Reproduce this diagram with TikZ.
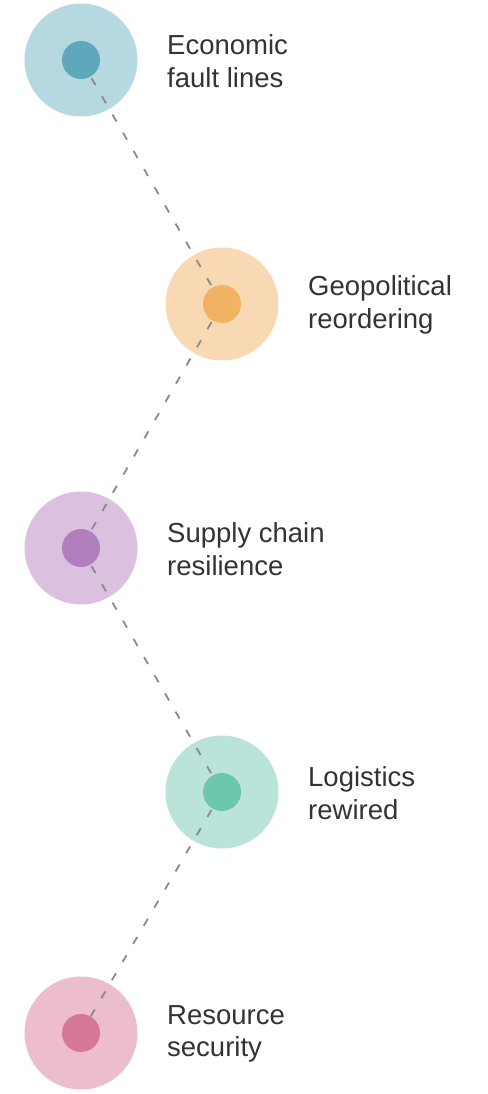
\documentclass[tikz,border=0pt]{standalone}
\usepackage{fontspec}
\setmainfont{Liberation Sans}
\definecolor{o1}{HTML}{B6D9E1}\definecolor{i1}{HTML}{5FA8BB}
\definecolor{o2}{HTML}{F9D9B3}\definecolor{i2}{HTML}{F2B263}
\definecolor{o3}{HTML}{DBC0DF}\definecolor{i3}{HTML}{B17FBD}
\definecolor{o4}{HTML}{BAE4D9}\definecolor{i4}{HTML}{6DC6AE}
\definecolor{o5}{HTML}{ECBDCD}\definecolor{i5}{HTML}{D87897}
\definecolor{txt}{HTML}{333333}
\definecolor{dash}{HTML}{8A8A8A}
\begin{document}
\begin{tikzpicture}[x=1pt,y=-1pt,
  outer/.style={circle,minimum size=113pt,inner sep=0pt,fill=#1},
  inner/.style={circle,minimum size=38pt,inner sep=0pt,fill=#1},
  lbl/.style={anchor=west,align=left,inner sep=0pt,text=txt,font=\fontsize{27.5}{32.5}\selectfont},
  conn/.style={draw=dash,line width=1.8pt,dash pattern=on 8pt off 13pt}]
\useasboundingbox (0,0) rectangle (487,1094);
\fill[white] (0,0) rectangle (487,1094);
\node[outer=o1] (o1) at (81,60) {};
\node[outer=o2] (o2) at (222,304) {};
\node[outer=o3] (o3) at (81,548) {};
\node[outer=o4] (o4) at (222,792) {};
\node[outer=o5] (o5) at (81,1033) {};
\draw[conn] (o1.center) -- (o2.center);
\draw[conn] (o2.center) -- (o3.center);
\draw[conn] (o3.center) -- (o4.center);
\draw[conn] (o4.center) -- (o5.center);
\node[inner=i1] (i1) at (o1.center) {};
\node[inner=i2] (i2) at (o2.center) {};
\node[inner=i3] (i3) at (o3.center) {};
\node[inner=i4] (i4) at (o4.center) {};
\node[inner=i5] (i5) at (o5.center) {};
\node[lbl] (t1) at (167,61) {Economic\\fault lines};
\node[lbl] (t2) at (308,305) {Geopolitical\\reordering};
\node[lbl] (t3) at (167,549) {Supply chain\\resilience};
\node[lbl] (t4) at (308,793) {Logistics\\rewired};
\node[lbl] (t5) at (167,1034) {Resource\\security};
\end{tikzpicture}
\end{document}
